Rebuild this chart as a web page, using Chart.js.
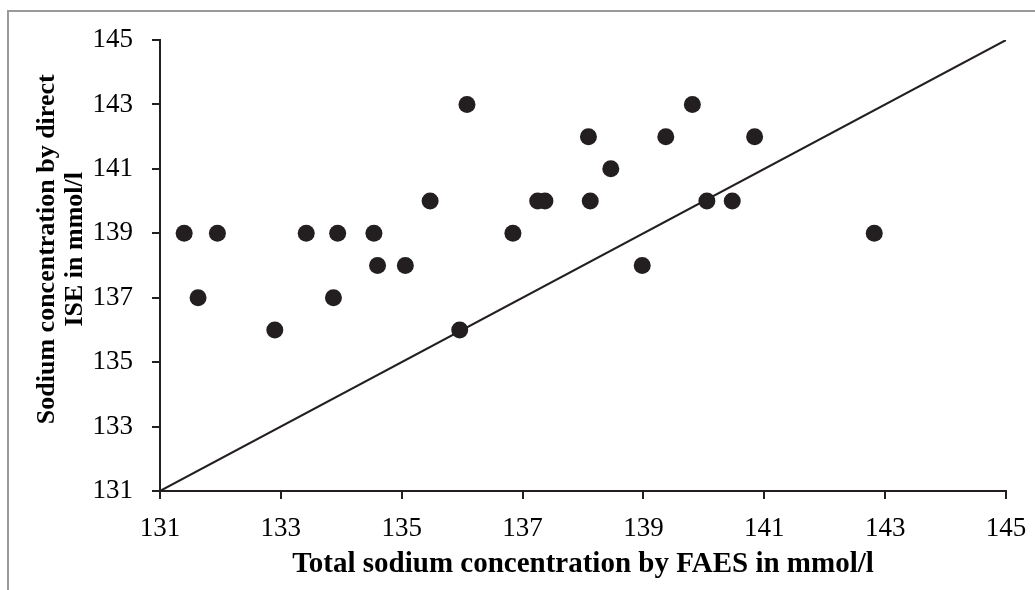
<!DOCTYPE html>
<html>
<head>
<meta charset="utf-8">
<script src="https://cdn.jsdelivr.net/npm/chart.js@4"></script>
<style>
  html, body { margin: 0; padding: 0; background: #fff; }
  #wrap { width: 1035px; height: 590px; }
</style>
</head>
<body>
<div id="wrap"><canvas id="sodium_chart"></canvas></div>
<script>
const faes = [131.40, 131.63, 131.95, 132.90, 133.42, 133.87, 133.94, 134.54, 134.60, 135.06, 135.47, 135.96, 136.08,
  136.84, 137.25, 137.37, 138.09, 138.12, 138.46, 138.98, 139.37, 139.81, 140.05, 140.47, 140.84, 142.82];
const ise = [139, 137, 139, 136, 139, 137, 139, 139, 138, 138, 140, 136, 143,
  139, 140, 140, 142, 140, 141, 138, 142, 143, 140, 140, 142, 139];
const lineX = [131, 145];
const lineY = [131, 145];
const tickValues = [131, 133, 135, 137, 139, 141, 143, 145];

(function () {
  const area = document.getElementById("sodium_chart");
  const serif = "'Liberation Serif', 'Times New Roman', serif";
  const ink = "#231f20";

  // grey frame of the original figure, open at right and bottom
  const frame = {
    id: "frame",
    beforeDraw(chart) {
      const ctx = chart.ctx;
      ctx.save();
      ctx.strokeStyle = "#9a9a9a";
      ctx.lineWidth = 2;
      ctx.strokeRect(8, 11, 1200, 1000);
      ctx.restore();
    },
  };

  const ticksFor = (scale) => {
    scale.ticks = tickValues.map((v) => ({ value: v }));
  };

  const config = {
    type: "scatter",
    data: {
      datasets: [
        {
          label: "samples",
          data: faes.map((x, i) => ({ x: x, y: ise[i] })),
          backgroundColor: ink,
          borderWidth: 0,
          pointRadius: 8.5,
          pointHoverRadius: 8.5,
        },
        {
          label: "identity",
          type: "line",
          data: lineX.map((x, i) => ({ x: x, y: lineY[i] })),
          borderColor: ink,
          borderWidth: 2,
          pointRadius: 0,
          fill: false,
        },
      ],
    },
    options: {
      responsive: true,
      maintainAspectRatio: false,
      animation: false,
      layout: { padding: { top: 40, right: 29, left: 0, bottom: 0 } },
      scales: {
        x: {
          type: "linear",
          min: 131,
          max: 145,
          afterBuildTicks: ticksFor,
          afterFit: (scale) => {
            scale.height = 99;
            scale.paddingLeft = 0;
            scale.paddingRight = 0;
          },
          border: { color: ink, width: 2 },
          grid: { drawOnChartArea: false, tickLength: 8, color: ink, lineWidth: 2 },
          ticks: { color: "#000", padding: 14, font: { family: serif, size: 27 } },
          title: {
            display: true,
            text: "Total sodium concentration by FAES in mmol/l",
            color: "#000",
            padding: { top: 8, bottom: 8 },
            font: { family: serif, size: 29, weight: "bold" },
          },
        },
        y: {
          type: "linear",
          min: 131,
          max: 145,
          afterBuildTicks: ticksFor,
          afterFit: (scale) => {
            scale.width = 160;
            scale.paddingTop = 0;
            scale.paddingBottom = 0;
          },
          border: { color: ink, width: 2 },
          grid: { drawOnChartArea: false, tickLength: 8, color: ink, lineWidth: 2 },
          ticks: { color: "#000", padding: 19, font: { family: serif, size: 27 } },
          title: {
            display: true,
            text: ["     Sodium concentration by direct", "     ISE in mmol/l"],
            color: "#000",
            padding: { top: 34, bottom: 0 },
            font: { family: serif, size: 26, weight: "bold", lineHeight: 1.05 },
          },
        },
      },
      plugins: {
        legend: { display: false },
        tooltip: { enabled: false },
      },
    },
    plugins: [frame],
  };

  new Chart(area, config);
})();
</script>
</body>
</html>
